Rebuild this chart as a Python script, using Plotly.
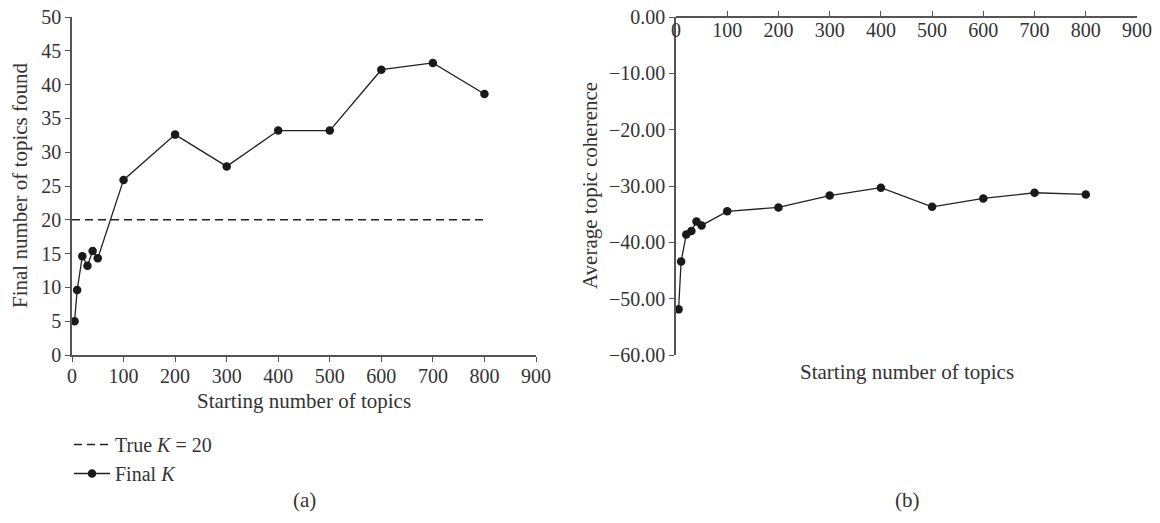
import plotly.graph_objects as go

# ---- data ----
start_topics = [5, 10, 20, 30, 40, 50, 100, 200, 300, 400, 500, 600, 700, 800]
final_k = [5.0, 9.6, 14.6, 13.2, 15.4, 14.3, 25.9, 32.6, 27.9, 33.2, 33.2, 42.2, 43.2, 38.6]
coherence = [-51.9, -43.4, -38.6, -38.0, -36.3, -37.0, -34.5, -33.8, -31.7, -30.3, -33.7, -32.2, -31.2, -31.5]
true_k_x = [0, 800]
true_k_y = [20, 20]

FONT = "Liberation Serif"
W, H = 1160, 523
def px(x): return x / W
def py(y): return 1 - y / H

fig = go.Figure()

fig.add_trace(go.Scatter(x=true_k_x, y=true_k_y, mode="lines",
                         line=dict(color="#222", width=1.4, dash="8px,5px"),
                         name="True <i>K</i> = 20", xaxis="x", yaxis="y",
                         legendgroup="a"))
fig.add_trace(go.Scatter(x=start_topics, y=final_k, mode="lines+markers",
                         line=dict(color="#222", width=1.3),
                         marker=dict(color="#1a1a1a", size=8.5),
                         name="Final <i>K</i>", xaxis="x", yaxis="y",
                         legendgroup="b"))
fig.add_trace(go.Scatter(x=start_topics, y=coherence, mode="lines+markers",
                         line=dict(color="#222", width=1.3),
                         marker=dict(color="#1a1a1a", size=8.5),
                         showlegend=False, xaxis="x2", yaxis="y2"))

axis_common = dict(showgrid=False, zeroline=False, showline=True,
                   linecolor="#555", linewidth=1.5, tickcolor="#555",
                   ticklen=5, tickwidth=1.2,
                   tickfont=dict(family=FONT, size=20, color="#333"))

top = py(17)
bottom = py(355)

fig.update_layout(
    width=W, height=H, autosize=False,
    margin=dict(l=0, r=0, t=0, b=0, autoexpand=False),
    paper_bgcolor="white", plot_bgcolor="white",
    font=dict(family=FONT, size=20, color="#333"),
    xaxis=dict(domain=[px(72), px(536)], range=[0, 900], dtick=100,
               anchor="y", ticks="outside", ticklabelstandoff=-3,
               **axis_common),
    yaxis=dict(domain=[bottom, top], range=[0, 50], dtick=5,
               anchor="x", ticks="outside", **axis_common),
    xaxis2=dict(domain=[px(676), px(1137)], range=[0, 900], dtick=100,
                anchor="free", position=top, side="bottom",
                ticks="inside", ticklabelstandoff=-5, **axis_common),
    yaxis2=dict(domain=[bottom, top], range=[-60, 0], dtick=10,
                tickformat=".2f", anchor="x2", ticks="outside", **axis_common),
    showlegend=True,
    legend=dict(x=px(69), y=py(425), xanchor="left", yanchor="top",
                font=dict(family=FONT, size=20, color="#333"),
                bgcolor="rgba(0,0,0,0)", traceorder="grouped",
                tracegroupgap=0, itemwidth=36),
)

ann = [
    dict(text="Starting number of topics", x=px(304), y=py(401)),
    dict(text="Final number of topics found", x=px(20), y=py(186), textangle=-90),
    dict(text="Starting number of topics", x=px(907), y=py(372)),
    dict(text="Average topic coherence", x=px(590), y=py(186), textangle=-90),
    dict(text="(a)", x=px(304), y=py(500)),
    dict(text="(b)", x=px(907), y=py(500)),
]
for a in ann:
    fig.add_annotation(xref="paper", yref="paper", showarrow=False,
                       xanchor="center", yanchor="middle",
                       font=dict(family=FONT, size=21, color="#333"), **a)

fig.write_html("out.html", config={"displayModeBar": False},
               post_script="document.body.style.margin='0px';"
                           "document.body.style.overflow='hidden';")
